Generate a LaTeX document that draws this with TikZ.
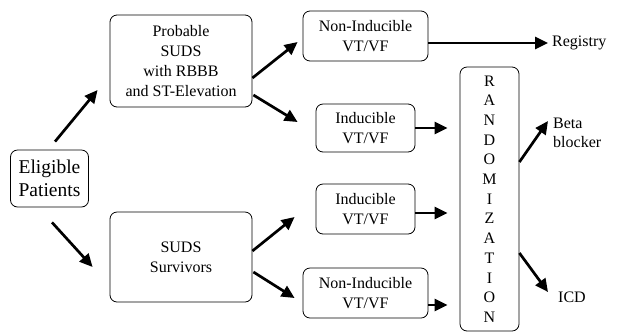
\documentclass[tikz,border=0pt]{standalone}
\usepackage{fontspec}
\setmainfont{Liberation Serif}
\usetikzlibrary{arrows.meta,calc}
\begin{document}
\begin{tikzpicture}[x=1pt,y=-1pt,
  box/.style={draw, rounded corners=7pt, line width=0.8pt, align=center, inner sep=0pt,
    font=\fontsize{16}{20}\selectfont},
  lbl/.style={align=left, inner sep=0pt, font=\fontsize{16}{19}\selectfont},
  arr/.style={line width=2.7pt, -{Triangle[length=13pt,width=12pt]}}]
\useasboundingbox (0,0) rectangle (617,333);
\node[box, minimum width=78pt, minimum height=57pt, font=\fontsize{19.5}{23}\selectfont] (elig) at (49.5,178.5) {Eligible\\Patients};
\node[box, minimum width=142pt, minimum height=92pt] (prob) at (181,61) {Probable\\SUDS\\with RBBB\\and ST-Elevation};
\node[box, minimum width=142pt, minimum height=90pt] (surv) at (181,257) {SUDS\\Survivors};
\node[box, minimum width=125pt, minimum height=50pt] (ni1) at (365.5,36) {Non-Inducible\\VT/VF};
\node[box, minimum width=99pt, minimum height=48pt] (ind1) at (365.5,128) {Inducible\\VT/VF};
\node[box, minimum width=99pt, minimum height=50pt] (ind2) at (365.5,209) {Inducible\\VT/VF};
\node[box, minimum width=125pt, minimum height=50pt] (ni2) at (365.5,293) {Non-Inducible\\VT/VF};
\node[box, minimum width=59pt, minimum height=264pt, font=\fontsize{16}{19.7}\selectfont] (rand) at (489.5,199)
  {R\\A\\N\\D\\O\\M\\I\\Z\\A\\T\\I\\O\\N};
\node[lbl, anchor=west] (reg) at (552,43) {Registry};
\node[lbl, anchor=west] (beta) at (553,133) {Beta\\blocker};
\node[lbl, anchor=west] (icd) at (558,297) {ICD};
\draw[arr] ($(elig.north)+(5.5,-8)$) -- ($(prob.west)+(-12,29)$);
\draw[arr] ($(elig.south)+(2.5,15)$) -- ($(surv.west)+(-17,10)$);
\draw[arr] ($(prob.east)+(0,17)$) -- ($(ni1.west)+(-5,6)$);
\draw[arr] ($(prob.east)+(1,34)$) -- ($(ind1.west)+(-18,-6)$);
\draw[arr] ($(surv.east)+(0,-6)$) -- ($(ind2.west)+(-21,8)$);
\draw[arr] ($(surv.east)+(1,15)$) -- ($(ni2.west)+(-8,5)$);
\draw[arr, shorten >=4pt] ($(ni1.east)+(0,7)$) -- (reg.west |- {$(ni1.east)+(0,7)$});
\draw[arr, shorten >=12pt] (ind1.east) -- (ind1.east -| rand.west);
\draw[arr, shorten >=12pt] ($(ind2.east)+(0,4)$) coordinate (i2) -- (i2 -| rand.west);
\draw[arr, shorten >=12pt] ($(ni2.east)+(0,12)$) coordinate (n2) -- (n2 -| rand.west);
\draw[arr] ($(rand.east)+(0,-37)$) -- ($(beta.west)+(-5,-12)$);
\draw[arr] ($(rand.east)+(0,54)$) -- ($(icd.west)+(-10,-5)$);
\end{tikzpicture}
\end{document}
